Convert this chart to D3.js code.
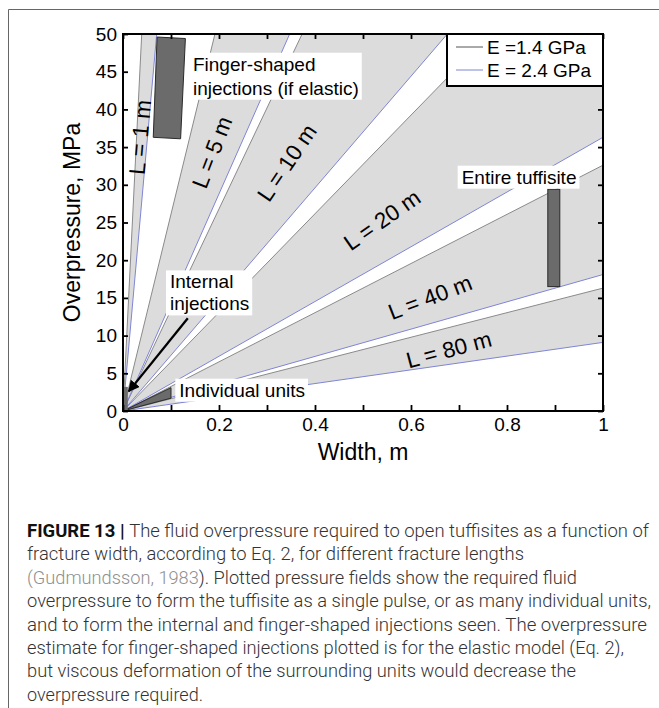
<!DOCTYPE html>
<meta charset="utf-8">
<style>
body { margin: 0; background: #fff; }
svg { display: block; font-family: "Liberation Sans", Arial, sans-serif; }
.axis text { font-size: 19px; fill: #000; }
.axis line { stroke: #000; stroke-width: 1.8; }
.axis path { display: none; }
.note { font-size: 19px; fill: #000; }
.band-label { font-size: 22.5px; }
.caption { font-family: Roboto, "Liberation Sans", sans-serif; font-weight: 300; font-size: 17.5px; fill: #333; }
</style>

<svg width="659" height="708"></svg>

<script src="https://d3js.org/d3.v7.min.js"></script>
<script>

// fracture lengths (m) and the overpressure needed per metre of width (MPa/m)
var lengths    = [1, 5, 10, 20, 40, 80];
var slopeGrey  = [1282, 261, 134, 65.4, 32.6, 16.3];   // E = 1.4 GPa line
var slopeBlue  = [712, 144, 74, 36.3, 18.1, 9.1];      // E = 2.4 GPa line

// axis ticks
var xTicks = [0, 0.1, 0.2, 0.3, 0.4, 0.5, 0.6, 0.7, 0.8, 0.9, 1];
var xTickLabels = ["0", "", "0.2", "", "0.4", "", "0.6", "", "0.8", "", "1"];
var yTicks = [0, 5, 10, 15, 20, 25, 30, 35, 40, 45, 50];

// observed fields (width m, overpressure MPa)
var fingerShape    = [[0.071, 49.6], [0.13, 49.4], [0.12, 36.1], [0.063, 36.3]];
var tuffisiteWidth = [0.885, 0.91];
var tuffisiteP     = [16.5, 29.4];
var internalWidth  = [0, 0.01];
var internalP      = [0, 3.2];
var unitsShape     = [[0.002, 0.05], [0.1, 3.1], [0.1, 1.7]];

var caption = [
  "The fluid overpressure required to open tuffisites as a function of",
  "fracture width, according to Eq. 2, for different fracture lengths",
  "). Plotted pressure fields show the required fluid",
  "overpressure to form the tuffisite as a single pulse, or as many individual units,",
  "and to form the internal and finger-shaped injections seen. The overpressure",
  "estimate for finger-shaped injections plotted is for the elastic model (Eq. 2),",
  "but viscous deformation of the surrounding units would decrease the",
  "overpressure required."
];

var svg = d3.select("svg");
var margin = {left: 123, top: 34},
    width = 480,
    height = 377;

var x = d3.scaleLinear().domain([0, 1]).range([margin.left, margin.left + width]);
var y = d3.scaleLinear().domain([0, 50]).range([margin.top + height, margin.top]);

// figure border
svg.append("path")
    .attr("d", "M8.5,708V9.5H659")
    .attr("fill", "none")
    .attr("stroke", "#666")
    .attr("stroke-width", 1);

svg.append("clipPath").attr("id", "plot-clip")
  .append("rect")
    .attr("x", margin.left).attr("y", margin.top)
    .attr("width", width).attr("height", height);

var plot = svg.append("g").attr("clip-path", "url(#plot-clip)");

// shaded band for each fracture length, between the two moduli
plot.selectAll(".band")
  .data(lengths)
  .join("path")
    .attr("class", "band")
    .attr("fill", "#dcdcdc")
    .attr("d", (d, i) => d3.line()([
      [x(0), y(0)], [x(1), y(slopeBlue[i])], [x(1), y(slopeGrey[i])]
    ]) + "Z");

plot.selectAll(".grey-line")
  .data(slopeGrey)
  .join("line")
    .attr("class", "grey-line")
    .attr("x1", x(0)).attr("y1", y(0))
    .attr("x2", x(1)).attr("y2", d => y(d))
    .attr("stroke", "#8a8a8a")
    .attr("stroke-width", 1);

plot.selectAll(".blue-line")
  .data(slopeBlue)
  .join("line")
    .attr("class", "blue-line")
    .attr("x1", x(0)).attr("y1", y(0))
    .attr("x2", x(1)).attr("y2", d => y(d))
    .attr("stroke", "#7f85d6")
    .attr("stroke-width", 1);

// dark fields
var dark = {fill: "#6b6b6b", stroke: "#2a2a2a"};
plot.append("path")
    .attr("d", d3.line().x(d => x(d[0])).y(d => y(d[1]))(fingerShape) + "Z")
    .attr("fill", dark.fill).attr("stroke", dark.stroke);
plot.append("path")
    .attr("d", d3.line().x(d => x(d[0])).y(d => y(d[1]))(unitsShape) + "Z")
    .attr("fill", dark.fill).attr("stroke", dark.stroke);
plot.append("rect")
    .attr("x", x(tuffisiteWidth[0])).attr("y", y(tuffisiteP[1]))
    .attr("width", x(tuffisiteWidth[1]) - x(tuffisiteWidth[0]))
    .attr("height", y(tuffisiteP[0]) - y(tuffisiteP[1]))
    .attr("fill", dark.fill).attr("stroke", dark.stroke);
plot.append("rect")
    .attr("x", x(internalWidth[0])).attr("y", y(internalP[1]))
    .attr("width", x(internalWidth[1]) - x(internalWidth[0]))
    .attr("height", y(internalP[0]) - y(internalP[1]))
    .attr("fill", dark.fill);

// L = ... labels along the bands
var bandLabels = [
  {w: 0.036, p: 36.3, a: -85},
  {w: 0.186, p: 34.3, a: -69},
  {w: 0.342, p: 32.9, a: -56},
  {w: 0.54, p: 25.3, a: -35},
  {w: 0.64, p: 15.05, a: -21},
  {w: 0.679, p: 8.1, a: -15}
];
svg.selectAll(".band-label")
  .data(lengths)
  .join("text")
    .attr("class", "note band-label")
    .attr("text-anchor", "middle")
    .attr("dominant-baseline", "central")
    .attr("transform", (d, i) => `translate(${x(bandLabels[i].w)},${y(bandLabels[i].p)}) rotate(${bandLabels[i].a})`)
    .text(d => "L = " + d + " m");

// boxed annotations
var notes = [
  {lines: ["Finger-shaped", "injections (if elastic)"], w: 0.1458, p: 45.13, gap: 24},
  {lines: ["Entire tuffisite"], w: 0.7056, p: 30.15, gap: 0},
  {lines: ["Internal", "injections"], w: 0.0979, p: 16.26, gap: 22},
  {lines: ["Individual units"], w: 0.1173, p: 1.9, gap: 0}
];

// arrow to the internal injections
svg.append("defs").append("marker")
    .attr("id", "head")
    .attr("viewBox", "0 0 10 10")
    .attr("refX", 9).attr("refY", 5)
    .attr("markerWidth", 5).attr("markerHeight", 5)
    .attr("orient", "auto")
  .append("path")
    .attr("d", "M0,0L10,5L0,10Z")
    .attr("fill", "#000");
svg.append("line")
    .attr("x1", x(0.135)).attr("y1", y(12.3))
    .attr("x2", x(0.012)).attr("y2", y(2.6))
    .attr("stroke", "#000")
    .attr("stroke-width", 2.3)
    .attr("marker-end", "url(#head)");

notes.forEach(function(n) {
  var g = svg.append("g");
  var t = g.append("text").attr("class", "note");
  n.lines.forEach(function(s, i) {
    t.append("tspan")
      .attr("x", x(n.w))
      .attr("y", y(n.p) + i * n.gap)
      .text(s);
  });
  var b = t.node().getBBox();
  g.insert("rect", "text")
    .attr("x", b.x - 4).attr("y", b.y - 1)
    .attr("width", b.width + 7).attr("height", b.height + 2)
    .attr("fill", "#fff");
});

// axes, ticks pointing inward
svg.append("g")
    .attr("class", "axis")
    .attr("transform", `translate(0,${margin.top + height})`)
    .call(d3.axisBottom(x).tickValues(xTicks).tickSize(-6).tickSizeOuter(0).tickPadding(7)
      .tickFormat((d, i) => xTickLabels[i]));
svg.append("g")
    .attr("class", "axis")
    .attr("transform", `translate(0,${margin.top})`)
    .call(d3.axisTop(x).tickValues(xTicks).tickSize(-5).tickSizeOuter(0).tickFormat(""));
svg.append("g")
    .attr("class", "axis")
    .attr("transform", `translate(${margin.left},0)`)
    .call(d3.axisLeft(y).tickValues(yTicks).tickSize(-5).tickSizeOuter(0).tickPadding(6));
svg.append("g")
    .attr("class", "axis")
    .attr("transform", `translate(${margin.left + width},0)`)
    .call(d3.axisRight(y).tickValues(yTicks).tickSize(-5).tickSizeOuter(0).tickFormat(""));

svg.append("rect")
    .attr("x", margin.left).attr("y", margin.top)
    .attr("width", width).attr("height", height)
    .attr("fill", "none")
    .attr("stroke", "#000")
    .attr("stroke-width", 2);

// axis titles
svg.append("text")
    .attr("x", margin.left + width / 2)
    .attr("y", 460)
    .attr("text-anchor", "middle")
    .style("font-size", "23px")
    .text("Width, m");
svg.append("text")
    .attr("transform", `translate(80,${margin.top + height / 2}) rotate(-90)`)
    .attr("text-anchor", "middle")
    .style("font-size", "23px")
    .text("Overpressure, MPa");

// legend
var legend = svg.append("g").attr("transform", "translate(447,34)");
legend.append("rect")
    .attr("width", 156).attr("height", 52)
    .attr("fill", "#fff")
    .attr("stroke", "#000")
    .attr("stroke-width", 2);
var legendItems = [
  {label: "E =1.4 GPa", color: "#555"},
  {label: "E = 2.4 GPa", color: "#7f85d6"}
];
legendItems.forEach(function(d, i) {
  legend.append("line")
    .attr("x1", 9).attr("x2", 36)
    .attr("y1", 13 + i * 23).attr("y2", 13 + i * 23)
    .attr("stroke", d.color);
  legend.append("text")
    .attr("class", "note")
    .attr("x", 40)
    .attr("y", 13 + i * 23)
    .attr("dominant-baseline", "central")
    .text(d.label);
});

// caption
var capX = 27, capY = 537, capGap = 23.4;
var capWidths = [622, 497, 550, 624, 620, 597, 549, 176];
caption.forEach(function(s, i) {
  var t = svg.append("text")
      .attr("class", "caption")
      .attr("x", capX)
      .attr("y", capY + i * capGap)
      .attr("textLength", capWidths[i])
      .attr("lengthAdjust", "spacingAndGlyphs");
  if (i === 0) {
    t.append("tspan").attr("font-weight", "bold").attr("fill", "#111").text("FIGURE 13 | ");
  }
  if (i === 2) {
    t.append("tspan").attr("fill", "#8f8f8f").text("(Gudmundsson, 1983");
  }
  t.append("tspan").text(s);
});

</script>
